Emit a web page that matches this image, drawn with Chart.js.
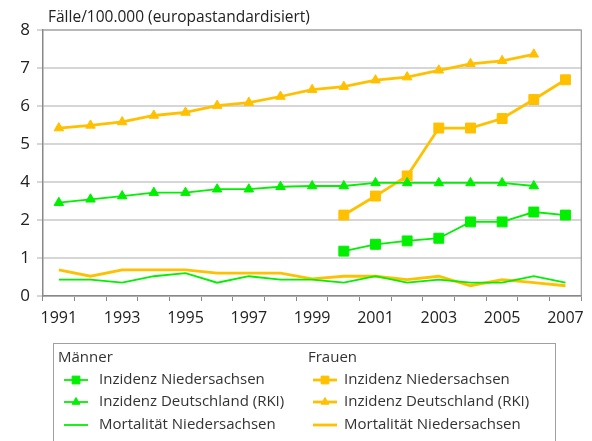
<!DOCTYPE html>
<html>
<head>
<meta charset="utf-8">
<script src="https://cdn.jsdelivr.net/npm/chart.js@4"></script>
<style>
  html, body { margin: 0; padding: 0; background: #fff; }
  canvas { display: block; }
</style>
</head>
<body>
<canvas id="chart" width="592" height="441"></canvas>
<script>
// Jahre (Kategorien)
const years = ['1991', '1992', '1993', '1994', '1995', '1996', '1997', '1998', '1999',
               '2000', '2001', '2002', '2003', '2004', '2005', '2006', '2007'];

// Beschriftung der y-Achse (Achse ist nicht linear: zwischen 2 und 4 liegt kein Strich)
const yTickValues = [0, 1, 2, 4, 5, 6, 7, 8];

// Männer
const maennerInzidenzNds = [null, null, null, null, null, null, null, null, null,
                            1.18, 1.36, 1.45, 1.52, 1.95, 1.95, 2.42, 2.26];
const maennerInzidenzRki = [2.91, 3.09, 3.26, 3.44, 3.44, 3.62, 3.62, 3.75, 3.79,
                            3.79, 3.95, 3.95, 3.95, 3.95, 3.95, 3.79, null];
const maennerMortalitaet = [0.43, 0.43, 0.35, 0.52, 0.60, 0.35, 0.52, 0.43, 0.43,
                            0.35, 0.52, 0.35, 0.43, 0.35, 0.35, 0.52, 0.35];

// Frauen
const frauenInzidenzNds = [null, null, null, null, null, null, null, null, null,
                           2.26, 3.26, 4.16, 5.42, 5.42, 5.67, 6.17, 6.69];
const frauenInzidenzRki = [5.42, 5.49, 5.58, 5.75, 5.83, 6.01, 6.09, 6.25, 6.43,
                           6.51, 6.68, 6.76, 6.94, 7.11, 7.19, 7.36, null];
const frauenMortalitaet = [0.69, 0.52, 0.69, 0.69, 0.69, 0.60, 0.60, 0.60, 0.45,
                           0.52, 0.52, 0.43, 0.52, 0.27, 0.43, 0.35, 0.27];

const GREEN = '#00f000';
const GOLD = '#ffc000';
const FONT = '"Open Sans", "Noto Sans", sans-serif';

// Wert -> Position auf der (stückweise linearen) Achse
function toAxis(v) {
    if (v === null) return null;
    for (let i = 0; i < yTickValues.length - 1; i++) {
        const a = yTickValues[i], b = yTickValues[i + 1];
        if (v <= b) return i + (v - a) / (b - a);
    }
    return yTickValues.length - 1;
}

function series(label, values, color, width, pointStyle) {
    return {
        label: label,
        data: values.map(toAxis),
        borderColor: color,
        backgroundColor: color,
        borderWidth: width,
        tension: 0,
        pointStyle: pointStyle || false,
        pointRadius: pointStyle === 'rect' ? 7 : (pointStyle ? 5.5 : 0),
        pointBorderWidth: 1,
        pointBorderColor: color,
        pointBackgroundColor: color
    };
}

// Titel, Rahmen und zweispaltige Legende
const decorations = {
    id: 'decorations',
    beforeDatasetsDraw(chart) {
        const { ctx, chartArea: a } = chart;
        ctx.save();
        ctx.strokeStyle = '#9a9a9a';
        ctx.lineWidth = 1.2;
        ctx.beginPath();
        ctx.moveTo(a.left, a.top);
        ctx.lineTo(a.right, a.top);
        ctx.lineTo(a.right, a.bottom);
        ctx.stroke();
        ctx.restore();
    },
    afterDraw(chart) {
        const ctx = chart.ctx;
        ctx.save();
        ctx.fillStyle = '#222';
        ctx.font = '15.5px ' + FONT;
        ctx.textBaseline = 'alphabetic';
        ctx.fillText('Fälle/100.000 (europastandardisiert)', 48, 21.5);

        // Legendenrahmen
        ctx.strokeStyle = '#a0a0a0';
        ctx.lineWidth = 1;
        ctx.strokeRect(53.5, 343.5, 502, 120);

        const columns = [
            { header: 'Männer', x: 58, lineX: 64, textX: 99, sets: [0, 1, 2] },
            { header: 'Frauen', x: 308, lineX: 313, textX: 344, sets: [3, 4, 5] }
        ];
        const rowY = [380, 402, 425];
        ctx.font = '15px ' + FONT;
        ctx.textBaseline = 'middle';
        columns.forEach(col => {
            ctx.fillStyle = '#333';
            ctx.fillText(col.header, col.x, 358);
            col.sets.forEach((di, r) => {
                const ds = chart.data.datasets[di];
                const y = rowY[r];
                ctx.strokeStyle = ds.borderColor;
                ctx.fillStyle = ds.borderColor;
                ctx.lineWidth = ds.borderWidth;
                ctx.beginPath();
                ctx.moveTo(col.lineX, y);
                ctx.lineTo(col.lineX + 24, y);
                ctx.stroke();
                if (ds.pointStyle) {
                    ctx.lineWidth = 1;
                    Chart.helpers.drawPoint(ctx, {
                        pointStyle: ds.pointStyle,
                        radius: ds.pointStyle === 'rect' ? 5.5 : 4.5,
                        rotation: 0,
                        borderWidth: 1
                    }, col.lineX + 12, y);
                }
                ctx.fillStyle = '#333';
                ctx.fillText(ds.label, col.textX, y);
            });
        });
        ctx.restore();
    }
};

new Chart(document.getElementById('chart'), {
    type: 'line',
    data: {
        labels: years,
        datasets: [
            series('Inzidenz Niedersachsen', maennerInzidenzNds, GREEN, 1.8, 'rect'),
            series('Inzidenz Deutschland (RKI)', maennerInzidenzRki, GREEN, 1.8, 'triangle'),
            series('Mortalität Niedersachsen', maennerMortalitaet, GREEN, 1.8, null),
            series('Inzidenz Niedersachsen', frauenInzidenzNds, GOLD, 2.8, 'rect'),
            series('Inzidenz Deutschland (RKI)', frauenInzidenzRki, GOLD, 2.8, 'triangle'),
            series('Mortalität Niedersachsen', frauenMortalitaet, GOLD, 2.8, null)
        ]
    },
    options: {
        responsive: false,
        animation: false,
        layout: { padding: { left: 0, top: 30, right: 7, bottom: 0 } },
        plugins: {
            legend: { display: false },
            tooltip: { enabled: false }
        },
        scales: {
            x: {
                offset: true,
                grid: {
                    offset: true,
                    drawOnChartArea: false,
                    drawTicks: true,
                    tickLength: 5,
                    tickColor: '#888',
                    tickWidth: 1
                },
                border: { color: '#888', width: 1.5 },
                ticks: {
                    autoSkip: false,
                    maxRotation: 0,
                    padding: 8,
                    color: '#222',
                    font: { family: FONT, size: 16 },
                    callback: function (v, i) {
                        return i % 2 === 0 ? this.getLabelForValue(v) : '';
                    }
                },
                afterFit: s => { s.height = 145; }
            },
            y: {
                min: 0,
                max: yTickValues.length - 1,
                grid: { color: '#d6d6d6', lineWidth: 2, tickLength: 6 },
                border: { color: '#888', width: 1.5 },
                ticks: {
                    stepSize: 1,
                    padding: 7,
                    color: '#222',
                    font: { family: FONT, size: 17 },
                    callback: v => yTickValues[v]
                },
                afterFit: s => { s.width = 43; }
            }
        }
    },
    plugins: [decorations]
});
</script>
</body>
</html>
